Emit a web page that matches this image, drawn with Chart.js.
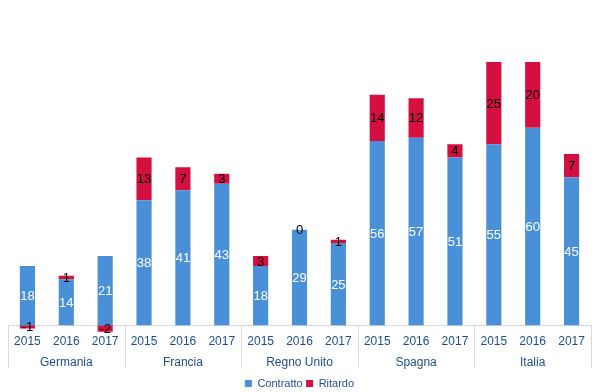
<!DOCTYPE html>
<html>
<head>
<meta charset="utf-8">
<script src="https://cdn.jsdelivr.net/npm/chart.js@4"></script>
<style>
html,body{margin:0;padding:0;background:#fff;}
#wrap{width:600px;height:392px;position:relative;}
</style>
</head>
<body>
<div id="wrap"><canvas id="c" width="600" height="392"></canvas></div>
<script>
const years = ['2015','2016','2017','2015','2016','2017','2015','2016','2017','2015','2016','2017','2015','2016','2017'];
const countries = ['Germania','Francia','Regno Unito','Spagna','Italia'];
const contratto = [18,14,21, 38,41,43, 18,29,25, 56,57,51, 55,60,45];
const ritardo = [-1,1,-2, 13,7,3, 3,0,1, 14,12,4, 25,20,7];

const BLUE = '#4A90D9';
const RED = '#D50F3F';
const TXT = '#1F4E8C';
const FONT = '"Liberation Sans", Arial, sans-serif';

const overlay = {
  id: 'overlay',
  beforeDatasetsDraw(chart) {
    const {ctx, chartArea, scales} = chart;
    const y0 = scales.y.getPixelForValue(0);
    const bottom = scales.x2.top + 17;
    ctx.save();
    ctx.strokeStyle = '#d9d9d9';
    ctx.lineWidth = 1;
    ctx.beginPath();
    ctx.moveTo(chartArea.left, Math.round(y0) + 0.5);
    ctx.lineTo(chartArea.right, Math.round(y0) + 0.5);
    const n = years.length;
    const step = (chartArea.right - chartArea.left) / n;
    for (let i = 0; i <= n; i += 3) {
      const px = Math.round(chartArea.left + i * step) + 0.5;
      ctx.moveTo(px, Math.round(y0));
      ctx.lineTo(px, bottom);
    }
    ctx.stroke();
    ctx.restore();
  },
  afterDatasetsDraw(chart) {
    const {ctx} = chart;
    ctx.save();
    ctx.font = '13px ' + FONT;
    ctx.textAlign = 'center';
    ctx.textBaseline = 'middle';
    chart.data.datasets.forEach((ds, di) => {
      const meta = chart.getDatasetMeta(di);
      meta.data.forEach((el, i) => {
        const v = ds.data[i];
        const p = el.getProps(['x', 'y', 'base'], true);
        const cy = (p.y + p.base) / 2;
        ctx.fillStyle = di === 0 ? '#ffffff' : '#000000';
        ctx.fillText(String(v), p.x, cy + 1);
      });
    });
    ctx.restore();
  }
};

new Chart(document.getElementById('c'), {
  type: 'bar',
  data: {
    labels: years,
    datasets: [
      {label: 'Contratto', data: contratto, backgroundColor: BLUE, categoryPercentage: 1, barPercentage: 0.39},
      {label: 'Ritardo', data: ritardo, backgroundColor: RED, categoryPercentage: 1, barPercentage: 0.39}
    ]
  },
  options: {
    responsive: false,
    animation: false,
    layout: {padding: {left: 8, right: 9, top: 6, bottom: -7}},
    plugins: {
      legend: {
        position: 'bottom',
        labels: {boxWidth: 7, boxHeight: 7, padding: 3.5, color: TXT,
          font: {size: 11, family: FONT}}
      },
      tooltip: {enabled: false}
    },
    scales: {
      x: {
        stacked: true,
        grid: {display: false, drawTicks: false},
        border: {display: false},
        ticks: {color: TXT, padding: 2, font: {size: 12, family: FONT}, maxRotation: 0, autoSkip: false}
      },
      x2: {
        type: 'category',
        labels: countries,
        position: 'bottom',
        offset: true,
        grid: {display: false, drawTicks: false},
        border: {display: false},
        ticks: {color: TXT, padding: 3.8, font: {size: 12, family: FONT}, maxRotation: 0, autoSkip: false},
        afterFit(scale) { scale.height += 1.3; }
      },
      y: {
        stacked: true,
        min: -2.3,
        max: 97,
        display: false
      }
    }
  },
  plugins: [overlay]
});
</script>
</body>
</html>
